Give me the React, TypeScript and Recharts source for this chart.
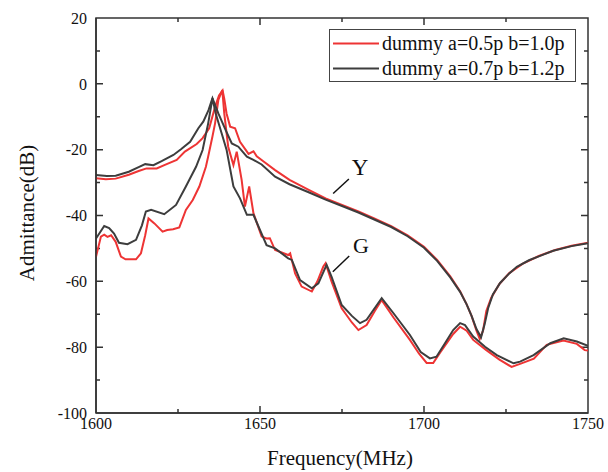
import React from 'react';
import {
  LineChart,
  Line,
  XAxis,
  YAxis,
  Legend,
  ReferenceLine,
  ReferenceDot,
} from 'recharts';

// Y (admittance magnitude) curves
const yRedFreq = [1600, 1603, 1606, 1610, 1613, 1615.4, 1618.5, 1621, 1624.6, 1627.1, 1630.7, 1632.5, 1634.5, 1636.3, 1637.5, 1638.6, 1639.1, 1639.8, 1640.9, 1642.4, 1643.9, 1646.5, 1648, 1649, 1651, 1654.6, 1659, 1665, 1670, 1675, 1680, 1685, 1690, 1695, 1700, 1704, 1708, 1711, 1713, 1714.5, 1716, 1717, 1718, 1719, 1720.5, 1723, 1726, 1730, 1735, 1740, 1745, 1750];
const yRedVal = [-28.7, -29, -28.8, -27.6, -26.5, -25.7, -25.7, -24.6, -23.1, -20.6, -18.3, -16.5, -13.5, -7, -3.5, -2, -4.5, -9, -13, -13.5, -17.6, -21.3, -20.5, -22, -23.5, -26.2, -29.2, -32.3, -34.8, -36.8, -38.8, -41, -43.2, -46, -49.5, -53.5, -58.5, -63, -67, -70.5, -75, -77.5, -75, -69, -65, -60.8, -57.5, -54.7, -52.3, -50.5, -49.2, -48.3];

const yDarkFreq = [1600, 1603.3, 1606, 1610, 1613, 1615, 1617.5, 1620, 1623.6, 1626, 1628.7, 1631.2, 1632.7, 1634.3, 1635.5, 1637.3, 1639.5, 1641.4, 1643.4, 1646, 1648, 1650.5, 1654.6, 1659, 1665, 1670, 1675, 1680, 1685, 1690, 1695, 1700, 1704, 1708, 1711, 1713, 1714.5, 1716, 1717.4, 1718.5, 1719.6, 1721, 1723.2, 1726, 1728.3, 1732, 1735, 1739.4, 1745, 1750];
const yDarkVal = [-27.7, -28, -27.9, -26.7, -25.3, -24.4, -24.7, -23.5, -21.6, -19.8, -17.6, -13.5, -11.5, -8, -4.4, -9, -14, -18.1, -19.1, -22.1, -23.1, -24.5, -28.2, -30.5, -33, -35.2, -37.1, -39.1, -41.3, -43.5, -46.3, -49.8, -53.8, -58.8, -63.2, -67, -70.5, -74.5, -77, -73, -68, -64, -60.5, -57.6, -55.6, -53.6, -52.4, -50.7, -49.3, -48.4];

// G (conductance) curves
const gRedFreq = [1600, 1601.5, 1602.5, 1603.5, 1604.6, 1606, 1607.6, 1609, 1612.2, 1613.7, 1615, 1616, 1617.8, 1620.3, 1621.7, 1623.5, 1625.4, 1627.4, 1629.5, 1631.5, 1633.5, 1634.2, 1635.5, 1636.3, 1637.3, 1638.5, 1639.1, 1640.3, 1641.9, 1642.9, 1644.4, 1645.4, 1646.7, 1648, 1650.5, 1652, 1653, 1654.6, 1658.6, 1659.2, 1660.7, 1662.7, 1665.8, 1667.5, 1669.3, 1670, 1671.8, 1674.9, 1678, 1680, 1682.5, 1685, 1687.1, 1690.7, 1695.7, 1698.5, 1700.8, 1702.8, 1705, 1708.9, 1711, 1713, 1715, 1719, 1723, 1726.7, 1729.5, 1733.5, 1737.4, 1742.5, 1746.6, 1749, 1750];
const gRedVal = [-52.5, -46.4, -45.8, -46.5, -46, -48, -52.5, -53.3, -53.3, -51.5, -46, -40.9, -42.4, -44.9, -44.4, -44.2, -43.6, -38.3, -35.3, -31.2, -25.2, -22.1, -16, -12, -4.9, -1.9, -9, -19.1, -24.7, -20.6, -29.2, -37.3, -31.2, -39.3, -46.4, -47, -46.9, -50.5, -52, -51.5, -57.6, -61.6, -63.1, -60, -55.5, -54.5, -60, -68.2, -72.5, -74.8, -73.3, -69, -65.7, -71, -77.8, -82, -84.8, -84.8, -81.5, -76, -73.8, -75, -77.8, -80.9, -83.8, -86, -85, -83.5, -79.3, -78, -79, -80.9, -81];

const gDarkFreq = [1600, 1602.5, 1604, 1605.5, 1607, 1609.6, 1612.2, 1614, 1615.2, 1616.8, 1620.8, 1624.4, 1627.4, 1630.5, 1632.5, 1634.2, 1635.5, 1636.5, 1638.3, 1639.8, 1641.9, 1643.9, 1646, 1648, 1652, 1654.6, 1658.6, 1659.7, 1662.2, 1665.8, 1667.8, 1670.3, 1671.8, 1674.9, 1678, 1680.5, 1682.5, 1687.1, 1690.7, 1695.7, 1699, 1701.8, 1703.8, 1706.4, 1708.9, 1711, 1712.5, 1715, 1718.6, 1722.2, 1727.3, 1729.3, 1733.4, 1738.5, 1742.6, 1746.6, 1750];
const gDarkVal = [-47, -43.2, -43.8, -45.5, -48.3, -48.7, -47.4, -43, -38.8, -38.3, -39.6, -36.8, -31.2, -25.2, -20.1, -12, -4.4, -9, -15, -20, -31.2, -34.8, -39.8, -39.8, -49, -50, -53, -53.5, -59.6, -62.1, -60.6, -55, -58.6, -67.2, -70.5, -72.7, -71.7, -65.1, -69.7, -76.3, -81.5, -83.4, -82.9, -78.8, -74.8, -72.7, -73.3, -76.8, -79.9, -82.4, -84.9, -84.4, -82.4, -78.8, -77.3, -78.3, -79.6];

const xMajor = [1600, 1650, 1700, 1750];
const xMinor = [1625, 1675, 1725];
const yMajor = [20, 0, -20, -40, -60, -80, -100];
const yMinor = [10, -10, -30, -50, -70, -90];

const legendItems = [
  { label: 'dummy a=0.5p b=1.0p', color: '#ee3434' },
  { label: 'dummy a=0.7p b=1.2p', color: '#3d3d3d' },
];

const RED = '#ee3434';
const DARK = '#3d3d3d';
const AXIS = '#333333';
const serif = "'Liberation Serif', 'Times New Roman', serif";
// axes need a non-zero size to render, keep it tiny so the plot box is unchanged
const THIN = 0.01;

const X0 = 1600, X1 = 1750, Y0 = -100, Y1 = 20;
const W = 608, H = 472;
const M = { top: 18, right: 20, bottom: 59, left: 96 };

const toPoints = (f: number[], v: number[]) => f.map((x, i) => ({ f: x, v: v[i] }));

const LegendBox = () => (
  <div
    style={{
      border: '1px solid #444',
      background: '#fff',
      width: 245,
      height: 51,
      boxSizing: 'content-box',
      fontFamily: serif,
      fontSize: 20,
      color: '#111',
    }}
  >
    {legendItems.map((it, i) => (
      <div key={i} style={{ display: 'flex', alignItems: 'center', height: 25, marginTop: i === 0 ? 1 : 0 }}>
        <svg width={52} height={25} style={{ display: 'block' }}>
          <line x1={3} x2={49} y1={12.5} y2={12.5} stroke={it.color} strokeWidth={2} />
        </svg>
        <span style={{ lineHeight: '25px', whiteSpace: 'nowrap' }}>{it.label}</span>
      </div>
    ))}
  </div>
);

// closed frame with inward major/minor ticks on all four sides, as one path
const framePath = () => {
  const L = M.left, R = W - M.right, T = M.top, B = H - M.bottom;
  const sx = (v: number) => L + ((v - X0) / (X1 - X0)) * (R - L);
  const sy = (v: number) => T + ((Y1 - v) / (Y1 - Y0)) * (B - T);
  const parts: string[] = [`M${L},${T}H${R}V${B}H${L}Z`];
  const vt = (t: number, len: number) => {
    parts.push(`M${sx(t)},${B}v${-len}`);
    parts.push(`M${sx(t)},${T}v${len}`);
  };
  const ht = (t: number, len: number) => {
    parts.push(`M${L},${sy(t)}h${len}`);
    parts.push(`M${R},${sy(t)}h${-len}`);
  };
  xMajor.forEach((t) => vt(t, 7));
  xMinor.forEach((t) => vt(t, 4));
  yMajor.forEach((t) => ht(t, 7));
  yMinor.forEach((t) => ht(t, 4));
  return parts.join('');
};

const App: React.FC = () => {
  return (
    <div style={{ position: 'absolute', left: 0, top: 0, width: W, height: H, background: '#fff' }}>
      <div style={{ position: 'absolute', left: 0, top: 0, width: W, height: H, zIndex: 0 }}>
        <svg width={W} height={H} viewBox={`0 0 ${W} ${H}`} style={{ display: 'block' }}>
          <path d={framePath()} stroke="#333333" strokeWidth={1.5} fill="none" />
        </svg>
      </div>
      <div style={{ position: 'absolute', left: 0, top: 0, width: W, height: H, zIndex: 1 }}>
        <LineChart width={W} height={H} margin={M}>
          <XAxis
            dataKey="f"
            type="number"
            domain={[X0, X1]}
            allowDataOverflow
            ticks={xMajor}
            interval={0}
            height={THIN}
            tickSize={-7}
            tickMargin={12}
            tickLine={false}
            stroke={AXIS}
            strokeWidth={1.5}
            tick={{ fill: '#111', fontSize: 16, fontFamily: serif }}
          />
          <YAxis
            type="number"
            domain={[Y0, Y1]}
            allowDataOverflow
            ticks={yMajor}
            interval={0}
            width={THIN}
            tickSize={-7}
            tickMargin={16}
            tickLine={false}
            stroke={AXIS}
            strokeWidth={1.5}
            tick={{ fill: '#111', fontSize: 16, fontFamily: serif }}
          />

          <Legend
            layout="horizontal"
            verticalAlign="middle"
            align="center"
            wrapperStyle={{ left: 329, top: 29, width: 247, height: 53 }}
            content={() => <LegendBox />}
          />

          {/* red first, dark drawn on top */}
          <Line data={toPoints(yRedFreq, yRedVal)} dataKey="v" type="linear" stroke={RED} strokeWidth={2} dot={false} isAnimationActive={false} />
          <Line data={toPoints(gRedFreq, gRedVal)} dataKey="v" type="linear" stroke={RED} strokeWidth={2} dot={false} isAnimationActive={false} />
          <Line data={toPoints(yDarkFreq, yDarkVal)} dataKey="v" type="linear" stroke={DARK} strokeWidth={2} dot={false} isAnimationActive={false} />
          <Line data={toPoints(gDarkFreq, gDarkVal)} dataKey="v" type="linear" stroke={DARK} strokeWidth={2} dot={false} isAnimationActive={false} />

          {/* curve annotations */}
          <ReferenceLine segment={[{ x: 1672.3, y: -33.3 }, { x: 1677.1, y: -28.9 }]} stroke="#111" strokeWidth={1.5} />
          <ReferenceLine segment={[{ x: 1672.2, y: -57.1 }, { x: 1677.2, y: -52.3 }]} stroke="#111" strokeWidth={1.5} />
          <ReferenceDot x={1680.5} y={-25.3} r={0} stroke="none" label={{ value: 'Y', position: 'center', fontSize: 23, fill: '#111', fontFamily: serif }} />
          <ReferenceDot x={1680.8} y={-49.1} r={0} stroke="none" label={{ value: 'G', position: 'center', fontSize: 22, fill: '#111', fontFamily: serif }} />
        </LineChart>
      </div>

      <div
        style={{
          position: 'absolute',
          left: 340,
          top: 458,
          zIndex: 2,
          transform: 'translate(-50%, -50%)',
          fontFamily: serif,
          fontSize: 21,
          color: '#111',
          whiteSpace: 'nowrap',
        }}
      >
        Frequency(MHz)
      </div>
      <div
        style={{
          position: 'absolute',
          left: 27,
          top: 213,
          zIndex: 2,
          transform: 'translate(-50%, -50%) rotate(-90deg)',
          fontFamily: serif,
          fontSize: 21,
          color: '#111',
          whiteSpace: 'nowrap',
        }}
      >
        Admittance(dB)
      </div>
    </div>
  );
};

export default App;
